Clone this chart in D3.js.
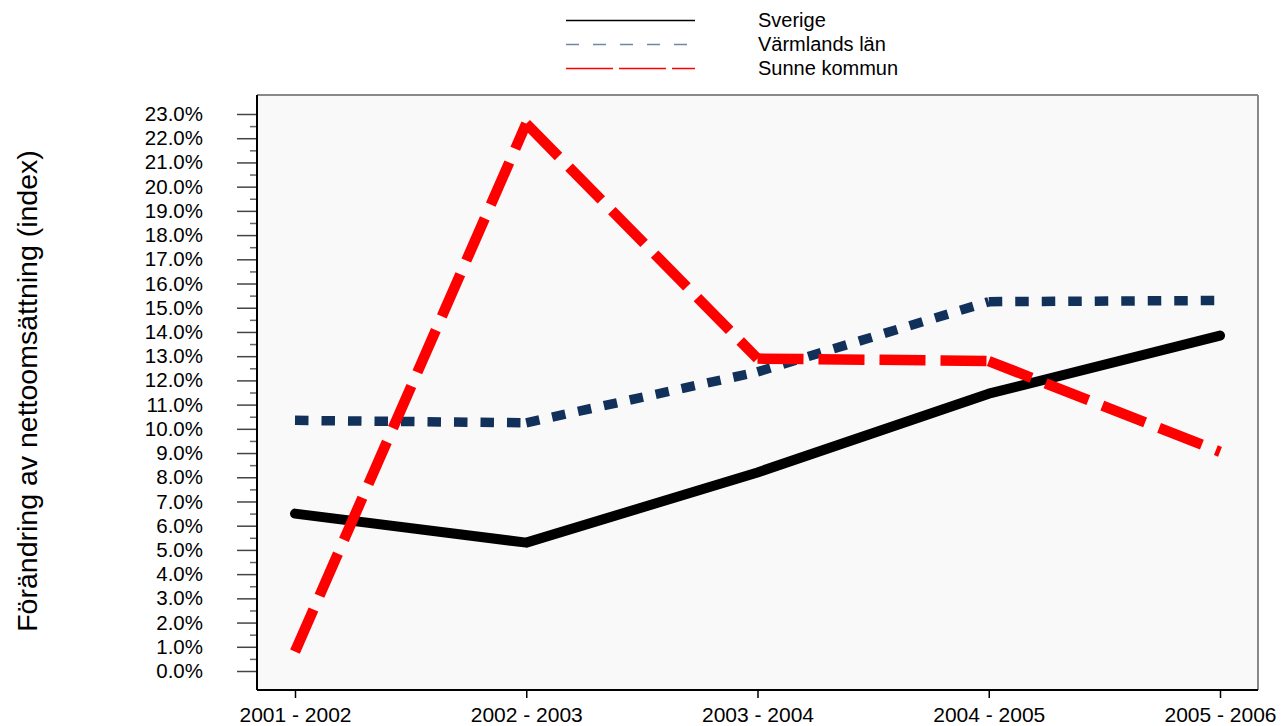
<!DOCTYPE html>
<html>
<head>
<meta charset="utf-8">
<script src="https://cdnjs.cloudflare.com/ajax/libs/d3/7.8.5/d3.min.js"></script>
<style>
  body { margin: 0; background: #fff; }
  svg { font-family: Arial, "Liberation Sans", sans-serif; }
</style>
</head>
<body>
<svg id="chart" width="1287" height="726"></svg>
<script>
// periods on the x axis
const periods = ['2001 - 2002', '2002 - 2003', '2003 - 2004', '2004 - 2005', '2005 - 2006']

// change in net turnover, percent
const sverige = [6.5, 5.3, 8.2, 11.45, 13.85]
const varmland = [10.35, 10.25, 12.35, 15.25, 15.3]
const sunne = [0.8, 22.6, 12.9, 12.8, 9.05]

const yTicks = d3.range(0, 23.01, 1)
const yMinor = d3.range(0.5, 23, 1)

const series = [
  { name: 'Sverige', values: sverige, color: '#000', width: 10, dash: null, cap: 'round',
    legColor: '#000', legDash: null, legWidth: 1.5 },
  { name: 'Värmlands län', values: varmland, color: '#12315a', width: 9.5, dash: '13.5,13', cap: 'butt',
    legColor: '#7087a6', legDash: '13,14', legWidth: 1.5 },
  { name: 'Sunne kommun', values: sunne, color: '#ff0000', width: 10.5, dash: '46,15', cap: 'butt',
    legColor: '#ff0000', legDash: '47,6', legWidth: 1.5 }
]

const svg = d3.select('#chart')

const pLeft = 257, pRight = 1258, pTop = 95, pBottom = 690

const x = d3.scalePoint().domain(periods).range([295, 1220])
const y = d3.scaleLinear().domain([0, 23]).range([671, 114])

// plot background + frame
svg.append('rect')
  .attr('x', pLeft).attr('y', pTop)
  .attr('width', pRight - pLeft).attr('height', pBottom - pTop)
  .attr('fill', '#f9f9f9')
svg.append('line').attr('x1', pLeft).attr('x2', pRight).attr('y1', pTop).attr('y2', pTop)
  .attr('stroke', '#888').attr('stroke-width', 2)
svg.append('line').attr('x1', pRight).attr('x2', pRight).attr('y1', pTop).attr('y2', pBottom)
  .attr('stroke', '#888').attr('stroke-width', 2)

// y axis
const yAxis = svg.append('g')
  .attr('transform', `translate(${pLeft},0)`)
  .call(d3.axisLeft(y).tickValues(yTicks).tickFormat(d => d3.format('.1f')(d) + '%')
    .tickSize(20).tickSizeOuter(0).tickPadding(34))
yAxis.select('.domain').remove()
yAxis.selectAll('.tick line').attr('stroke', '#444').attr('stroke-width', 1.5)
yAxis.selectAll('.tick text').attr('font-size', 20.5).attr('fill', '#000')
  .attr('font-family', 'Arial, "Liberation Sans", sans-serif')

svg.append('g')
  .attr('transform', `translate(${pLeft},0)`)
  .call(d3.axisLeft(y).tickValues(yMinor).tickFormat('').tickSize(7).tickSizeOuter(0))
  .call(g => g.select('.domain').remove())
  .selectAll('.tick line').attr('stroke', '#666').attr('stroke-width', 1.5)

svg.append('line').attr('x1', pLeft).attr('x2', pLeft).attr('y1', pTop).attr('y2', pBottom)
  .attr('stroke', '#000').attr('stroke-width', 2)

// x axis
const xAxis = svg.append('g')
  .attr('transform', `translate(0,${pBottom})`)
  .call(d3.axisBottom(x).tickSize(8).tickSizeOuter(0).tickPadding(9))
xAxis.select('.domain').remove()
xAxis.selectAll('.tick line').attr('stroke', '#000').attr('stroke-width', 1.5)
xAxis.selectAll('.tick text').attr('font-size', 21).attr('fill', '#000')
  .attr('font-family', 'Arial, "Liberation Sans", sans-serif')

svg.append('line').attr('x1', pLeft).attr('x2', pRight).attr('y1', pBottom).attr('y2', pBottom)
  .attr('stroke', '#000').attr('stroke-width', 2)

// axis title
svg.append('text')
  .attr('transform', 'translate(37,391) rotate(-90)')
  .attr('text-anchor', 'middle')
  .attr('font-size', 28.5)
  .text('Förändring av nettoomsättning (index)')

// lines, one path per segment so each segment starts its own dash pattern
const line = d3.line().x(d => x(d.p)).y(d => y(d.v))
series.forEach(s => {
  const pts = periods.map((p, i) => ({ p, v: s.values[i] }))
  const g = svg.append('g')
  if (s.dash) {
    d3.pairs(pts).forEach(pair => {
      g.append('path')
        .attr('d', line(pair))
        .attr('fill', 'none')
        .attr('stroke', s.color)
        .attr('stroke-width', s.width)
        .attr('stroke-dasharray', s.dash)
        .attr('stroke-linecap', s.cap)
    })
  } else {
    g.append('path')
      .attr('d', line(pts))
      .attr('fill', 'none')
      .attr('stroke', s.color)
      .attr('stroke-width', s.width)
      .attr('stroke-linecap', 'round')
      .attr('stroke-linejoin', 'round')
  }
})

// legend
const leg = svg.append('g')
series.forEach((s, i) => {
  const ly = 20 + i * 24
  leg.append('line')
    .attr('x1', 566).attr('x2', 695).attr('y1', ly + 0.5).attr('y2', ly + 0.5)
    .attr('stroke', s.legColor).attr('stroke-width', s.legWidth)
    .attr('stroke-dasharray', s.legDash)
  leg.append('text')
    .attr('x', 758).attr('y', ly + 7)
    .attr('font-size', 20)
    .text(s.name)
})
</script>
</body>
</html>
